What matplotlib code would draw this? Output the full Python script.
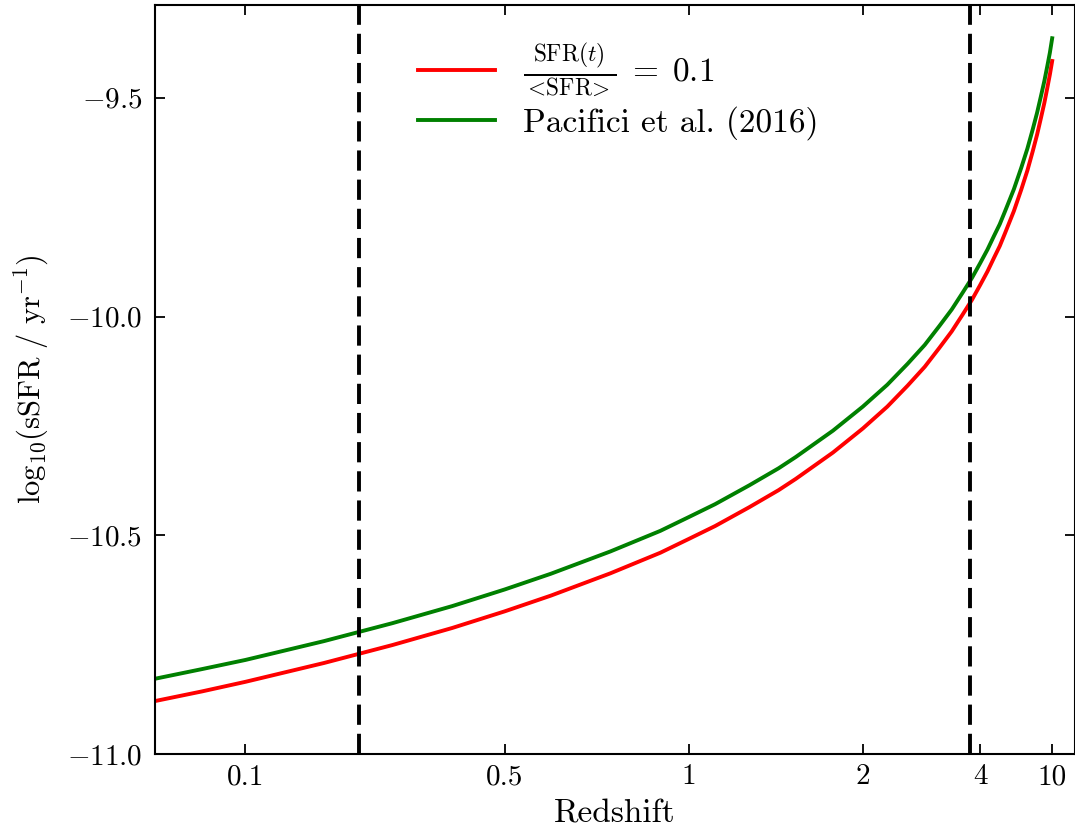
import numpy as np
import matplotlib
matplotlib.use("Agg")
import matplotlib.pyplot as plt
from matplotlib.ticker import FixedLocator, FixedFormatter

# --- data -------------------------------------------------------------
redshift = [0, 0.05, 0.1, 0.2, 0.3, 0.4, 0.5, 0.6, 0.75, 0.9, 1, 1.1, 1.25,
            1.4, 1.5, 1.75, 2, 2.25, 2.5, 2.75, 3, 3.25, 3.5, 3.75, 4, 4.25,
            4.5, 4.75, 5, 5.5, 6, 6.5, 7, 7.5, 8, 8.5, 9, 9.5, 10]

ssfr_ratio = [-10.879, -10.857, -10.835, -10.792, -10.751, -10.712, -10.674,
              -10.638, -10.587, -10.540, -10.508, -10.479, -10.436, -10.397,
              -10.371, -10.311, -10.256, -10.206, -10.158, -10.115, -10.072,
              -10.034, -9.996, -9.962, -9.928, -9.897, -9.866, -9.839,
              -9.810, -9.759, -9.710, -9.666, -9.623, -9.584, -9.546,
              -9.512, -9.478, -9.447, -9.416]

ssfr_pacifici = [-10.828, -10.806, -10.785, -10.742, -10.701, -10.662,
                 -10.624, -10.588, -10.537, -10.490, -10.458, -10.429,
                 -10.386, -10.347, -10.321, -10.261, -10.206, -10.156,
                 -10.108, -10.065, -10.022, -9.984, -9.946, -9.912, -9.878,
                 -9.847, -9.816, -9.789, -9.760, -9.709, -9.660, -9.616,
                 -9.573, -9.534, -9.496, -9.462, -9.428, -9.397, -9.364]

z_markers = [0.25, 3.7]

xtick_z = [0.1, 0.5, 1, 2, 4, 10]
xtick_labels = ["0.1", "0.5", "1", "2", "4", "10"]
ytick_vals = [-11.0, -10.5, -10.0, -9.5]
ytick_labels = [r"$-11.0$", r"$-10.5$", r"$-10.0$", r"$-9.5$"]

# --- flat LCDM lookback-time axis -------------------------------------
H0, Om = 67.74, 0.3089
OL = 1.0 - Om
t_H = 977.8 / H0
C = 2.0 * t_H / (3.0 * np.sqrt(OL))
k = np.sqrt(OL / Om)


def age(z):
    z = np.clip(np.asarray(z, dtype=float), -0.99, None)
    return C * np.arcsinh(k * (1.0 + z) ** -1.5)


T0 = float(age(0.0))


def lookback(z):
    return T0 - age(z)


def z_from_lookback(t):
    a = np.clip(T0 - np.asarray(t, dtype=float), 1e-6, None)
    return (np.sinh(a / C) / k) ** (-2.0 / 3.0) - 1.0


# --- style ------------------------------------------------------------
plt.rcParams.update({
    "font.family": "serif",
    "font.serif": ["cmr10"],
    "mathtext.fontset": "cm",
    "axes.formatter.use_mathtext": True,
    "axes.unicode_minus": True,
})

fig = plt.figure(figsize=(10.75, 8.34), dpi=100)
ax = fig.add_axes([155 / 1075, 80 / 834, 919.5 / 1075, 749 / 834])
ax.set_xscale("function", functions=(lookback, z_from_lookback))

ax.plot(redshift, ssfr_ratio, color="red", lw=2.8,
        label=r"$\frac{\mathrm{SFR}(t)}{<\!\mathrm{SFR}\!>}\;=\;0.1$")
ax.plot(redshift, ssfr_pacifici, color="green", lw=2.8,
        label="Pacifici et al. (2016)")
for zm in z_markers:
    ax.axvline(zm, color="black", ls="--", lw=2.8, dashes=(5.2, 2.3))

ax.set_xlim(0.0, float(z_from_lookback(13.66)))
ax.set_ylim(-11.0, -9.288)

ax.xaxis.set_major_locator(FixedLocator(xtick_z))
ax.xaxis.set_major_formatter(FixedFormatter(xtick_labels))
ax.xaxis.set_minor_locator(FixedLocator([]))
ax.yaxis.set_major_locator(FixedLocator(ytick_vals))
ax.yaxis.set_major_formatter(FixedFormatter(ytick_labels))

ax.tick_params(direction="in", top=True, right=True, length=7, width=1.3,
               labelsize=21)
ax.tick_params(axis="x", pad=7)
ax.tick_params(axis="y", pad=9)
for sp in ax.spines.values():
    sp.set_linewidth(1.5)

ax.set_xlabel("Redshift", fontsize=24, labelpad=7)
ax.set_ylabel(r"$\mathrm{log}_{10}(\mathrm{sSFR\ /\ yr^{-1}})$", fontsize=22,
              labelpad=12)

ax.legend(loc="upper left", bbox_to_anchor=(0.272, 0.969), frameon=False,
          fontsize=24, handlelength=2.3, handletextpad=0.85,
          labelspacing=0.22, borderaxespad=0.0)

fig.savefig("out.png", dpi=100)
